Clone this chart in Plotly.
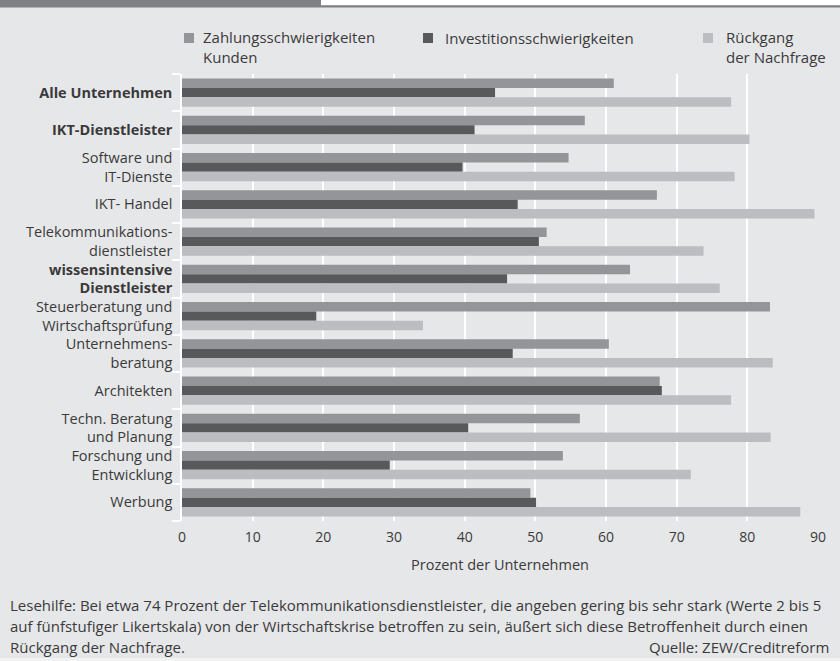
import plotly.graph_objects as go

# ---------------- data ----------------
categories = [
    "Alle Unternehmen", "IKT-Dienstleister", "Software und IT-Dienste", "IKT- Handel",
    "Telekommunikations-dienstleister", "wissensintensive Dienstleister",
    "Steuerberatung und Wirtschaftsprüfung", "Unternehmens-beratung", "Architekten",
    "Techn. Beratung und Planung", "Forschung und Entwicklung", "Werbung",
]
tick_labels = [
    "<b>Alle Unternehmen</b>", "<b>IKT-Dienstleister</b>", "Software und<br>IT-Dienste", "IKT- Handel",
    "Telekommunikations-<br>dienstleister", "<b>wissensintensive<br>Dienstleister</b>",
    "Steuerberatung und<br>Wirtschaftsprüfung", "Unternehmens-<br>beratung", "Architekten",
    "Techn. Beratung<br>und Planung", "Forschung und<br>Entwicklung", "Werbung",
]
series_names = ["Zahlungsschwierigkeiten Kunden", "Investitionsschwierigkeiten", "Rückgang der Nachfrage"]
legend_labels = ["Zahlungsschwierigkeiten<br>Kunden", "Investitionsschwierigkeiten", "Rückgang<br>der Nachfrage"]
zahlung = [61.1, 57.0, 54.7, 67.2, 51.6, 63.4, 83.2, 60.4, 67.6, 56.3, 53.9, 49.3]
invest = [44.3, 41.4, 39.7, 47.5, 50.5, 46.0, 19.0, 46.8, 67.9, 40.5, 29.4, 50.1]
rueck = [77.7, 80.3, 78.2, 89.5, 73.8, 76.1, 34.1, 83.6, 77.7, 83.3, 72.0, 87.5]
x_ticks = [0, 10, 20, 30, 40, 50, 60, 70, 80, 90]
x_title = "Prozent der Unternehmen"
note_lines = [
    "Lesehilfe: Bei etwa 74 Prozent der Telekommunikationsdienstleister, die angeben gering bis sehr stark (Werte 2 bis 5",
    "auf fünfstufiger Likertskala) von der Wirtschaftskrise betroffen zu sein, äußert sich diese Betroffenheit durch einen",
    "Rückgang der Nachfrage.",
]
source = "Quelle: ZEW/Creditreform"

# ---------------- style ----------------
W, H = 840, 661
ML, MR, MT, MB = 182, 22, 74, 140
PW, PH = W - ML - MR, H - MT - MB
BG = "#e6e7e9"
TXT = "#3a3a3a"
FONT = "Open Sans"
colors = ["#949598", "#58595b", "#bcbdc0"]


def px(x):
    return (x - ML) / PW


def py(y):
    return (H - MB - y) / PH


fig = go.Figure()
for name, vals, col in zip(series_names, [zahlung, invest, rueck], colors):
    fig.add_trace(go.Bar(
        y=categories, x=vals, orientation="h", name=name,
        marker=dict(color=col, line=dict(width=0)), showlegend=False,
    ))

shapes = []
annotations = []
# top decoration
shapes.append(dict(type="rect", xref="paper", yref="paper", x0=px(321), x1=px(W + 2), y0=py(-2), y1=py(5.3),
                   fillcolor="white", line=dict(width=0), layer="above"))
shapes.append(dict(type="rect", xref="paper", yref="paper", x0=px(-2), x1=px(321), y0=py(-2), y1=py(7.5),
                   fillcolor="#808184", line=dict(width=0), layer="above"))
shapes.append(dict(type="rect", xref="paper", yref="paper", x0=px(321), x1=px(W + 2), y0=py(5.3), y1=py(7.5),
                   fillcolor="#808184", line=dict(width=0), layer="above"))
shapes.append(dict(type="rect", xref="paper", yref="paper", x0=px(-2), x1=px(W + 2), y0=py(658), y1=py(H + 2),
                   fillcolor="#f2f2f3", line=dict(width=0), layer="above"))

# manual legend
leg_sq_x = [184, 423, 703]
leg_txt_x = [201, 443, 724]
for sx, tx, lab, col in zip(leg_sq_x, leg_txt_x, legend_labels, colors):
    shapes.append(dict(type="rect", xref="paper", yref="paper", x0=px(sx), x1=px(sx + 10),
                       y0=py(33), y1=py(43), fillcolor=col, line=dict(width=0)))
    nl = lab.count("<br>") + 1
    yc = 37.7 if nl == 1 else 46.7
    annotations.append(dict(xref="paper", yref="paper", x=px(tx), y=py(yc), text=lab, showarrow=False,
                            xanchor="left", yanchor="middle", align="left",
                            font=dict(family=FONT, size=15, color=TXT)))

# note lines
for line, yc in zip(note_lines, [605, 626, 647]):
    annotations.append(dict(xref="paper", yref="paper", x=px(8), y=py(yc), text=line, showarrow=False,
                            xanchor="left", yanchor="middle", align="left",
                            font=dict(family=FONT, size=15, color=TXT)))
annotations.append(dict(xref="paper", yref="paper", x=px(831), y=py(647), text=source, showarrow=False,
                        xanchor="right", yanchor="middle", align="right",
                        font=dict(family=FONT, size=15, color=TXT)))

fig.update_layout(
    width=W, height=H, autosize=False,
    margin=dict(l=ML, r=MR, t=MT, b=MB, pad=0),
    paper_bgcolor=BG, plot_bgcolor=BG,
    barmode="group", bargap=0.24, bargroupgap=0,
    font=dict(family=FONT, size=14, color=TXT),
    shapes=shapes, annotations=annotations,
    xaxis=dict(range=[0, 90], tickvals=x_ticks, ticktext=[str(v) for v in x_ticks],
               showgrid=True, gridcolor="white", gridwidth=1.5, zeroline=False,
               showline=False, ticks="", ticklabelstandoff=6,
               tickfont=dict(family=FONT, size=14, color=TXT),
               title=dict(text=x_title, standoff=14, font=dict(family=FONT, size=14.5, color=TXT)),
               automargin=False, fixedrange=True),
    yaxis=dict(categoryorder="array", categoryarray=categories, autorange="reversed",
               tickvals=categories, ticktext=tick_labels,
               showgrid=False, zeroline=False, showline=True, linecolor="white", linewidth=1.5,
               ticks="outside", tickson="boundaries", ticklen=8, tickcolor="white", tickwidth=1.5,
               ticklabelstandoff=5,
               tickfont=dict(family=FONT, size=14.5, color=TXT),
               automargin=False, fixedrange=True),
)

fig.write_html("out.html", config={"displayModeBar": False})
